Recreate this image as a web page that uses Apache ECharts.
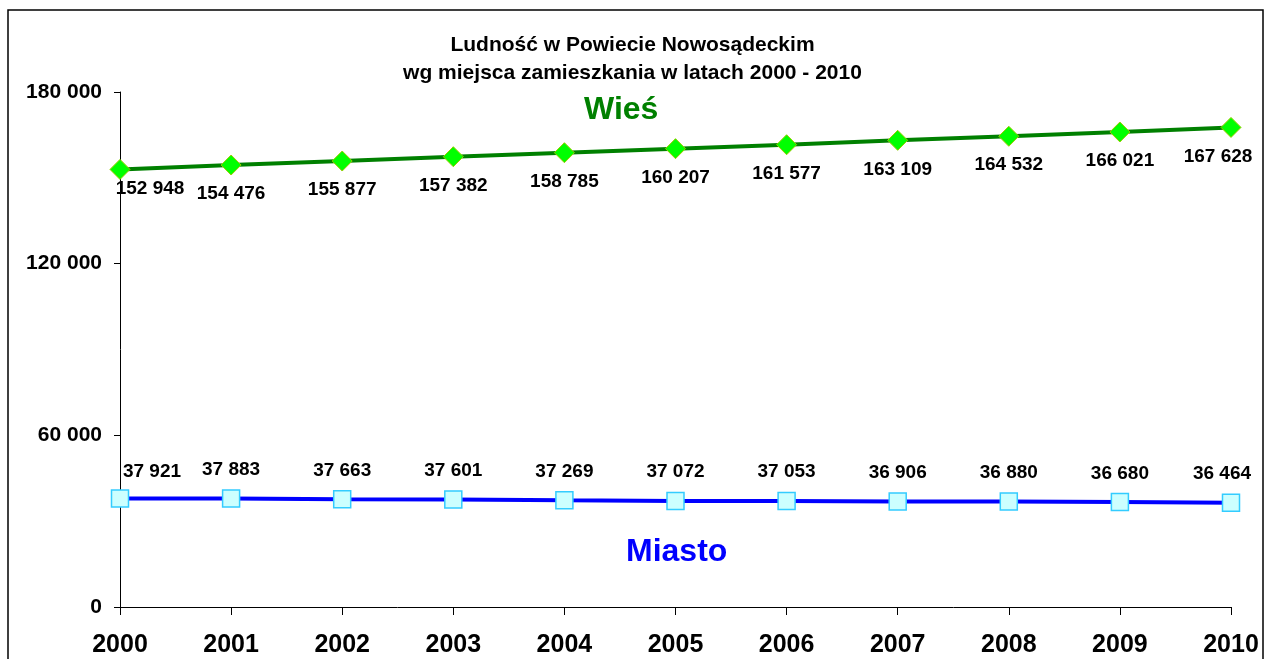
<!DOCTYPE html>
<html><head><meta charset="utf-8">
<script src="https://cdn.jsdelivr.net/npm/echarts@6/dist/echarts.min.js"></script>
<style>html,body{margin:0;padding:0;background:#fff}#c{width:1265px;height:659px}</style>
</head><body><div id="c"></div>
<script>
const years = ['2000','2001','2002','2003','2004','2005','2006','2007','2008','2009','2010'];
const wies = [152948,154476,155877,157382,158785,160207,161577,163109,164532,166021,167628];
const miasto = [37921,37883,37663,37601,37269,37072,37053,36906,36880,36680,36464];
const yTicks = [0,60000,120000,180000];
const titleLines = ['Ludność w Powiecie Nowosądeckim','wg miejsca zamieszkania w latach 2000 - 2010'];

const FONT = '"Liberation Sans", Arial, sans-serif';
const fmt = v => String(v).replace(/\B(?=(\d{3})+(?!\d))/g, ' ');
const last = years.length - 1;

function items(arr, firstOff, lastOff){
  return arr.map((v,i)=>{
    const it = {value:v};
    if(i===0) it.label = {offset:firstOff};
    if(i===last) it.label = {offset:lastOff};
    return it;
  });
}

const chart = echarts.init(document.getElementById('c'), null, {renderer:'canvas'});
chart.setOption({
  animation:false,
  backgroundColor:'#fff',
  textStyle:{fontFamily:FONT},
  title:{
    text:titleLines.join('\n'),
    left:'center', top:26,
    textStyle:{fontFamily:FONT,fontSize:21,fontWeight:'bold',color:'#000',lineHeight:28}
  },
  grid:{left:120,right:34,top:92,bottom:52,containLabel:false},
  xAxis:{
    type:'category', data:years, boundaryGap:false,
    axisLine:{lineStyle:{color:'#000',width:1}},
    axisTick:{show:true,length:8,alignWithLabel:true,lineStyle:{color:'#000'}},
    axisLabel:{fontFamily:FONT,fontSize:25,fontWeight:'bold',color:'#000',margin:26,interval:0},
    splitLine:{show:false}
  },
  yAxis:{
    type:'value', min:yTicks[0], max:yTicks[yTicks.length-1], interval:60000,
    axisLine:{show:true,lineStyle:{color:'#000',width:1}},
    axisTick:{show:true,length:6,lineStyle:{color:'#000'}},
    axisLabel:{fontFamily:FONT,fontSize:21,fontWeight:'bold',color:'#000',margin:18,formatter:v=>fmt(v)},
    splitLine:{show:false}
  },
  series:[
    {
      name:'Wieś', type:'line', data:items(wies,[30,-10],[-13,0]),
      lineStyle:{color:'#008000',width:4},
      symbol:'diamond', symbolSize:20,
      itemStyle:{color:'#00FF00',borderColor:'#99CC00',borderWidth:1},
      label:{show:true,position:'bottom',distance:9,fontFamily:FONT,fontSize:19,fontWeight:'bold',color:'#000',formatter:p=>fmt(p.value)},
      z:3
    },
    {
      name:'Miasto', type:'line', data:items(miasto,[32,2],[-9,0]),
      lineStyle:{color:'#0000FF',width:4},
      symbol:'rect', symbolSize:17,
      itemStyle:{color:'#CCFFFF',borderColor:'#33CCFF',borderWidth:1.5},
      label:{show:true,position:'top',distance:10,fontFamily:FONT,fontSize:19,fontWeight:'bold',color:'#000',formatter:p=>fmt(p.value)},
      z:3
    }
  ],
  graphic:[
    {type:'rect',shape:{x:8,y:10,width:1255,height:700},style:{fill:'none',stroke:'#000',lineWidth:1.5},silent:true,z:-1},
    {type:'text',left:584,top:94,style:{text:'Wieś',fill:'#008000',font:'bold 32px '+FONT}},
    {type:'text',left:626,top:536,style:{text:'Miasto',fill:'#0000FF',font:'bold 32px '+FONT}}
  ]
});
</script></body></html>
